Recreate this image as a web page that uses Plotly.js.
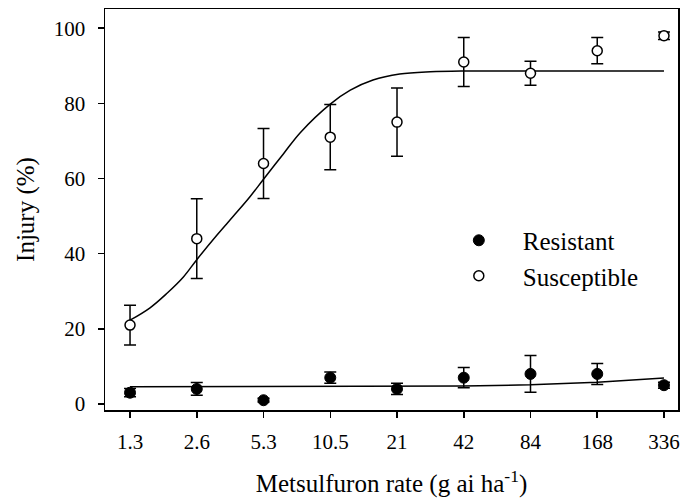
<!DOCTYPE html>
<html>
<head>
<meta charset="utf-8">
<script src="https://cdn.plot.ly/plotly-3.0.1.min.js"></script>
<style>html,body{margin:0;padding:0;background:#fff;}#chart{width:683px;height:503px;}</style>
</head>
<body>
<div id="chart"></div>
<script>
// Tick labels (metsulfuron rate, g ai/ha) at evenly spaced positions
var rateLabels = ["1.3", "2.6", "5.3", "10.5", "21", "42", "84", "168", "336"];
var ratePos = [0, 1, 2, 3, 4, 5, 6, 7, 8];

// Observed means and errors
var resistantMean = [3, 4, 1, 7, 4, 7, 8, 8, 5];
var resistantErr  = [1.1, 1.7, 0.5, 1.5, 1.5, 2.7, 4.9, 2.8, 0.8];
var susceptibleMean = [21, 44, 64, 71, 75, 91, 88, 94, 98];
var susceptibleErr  = [5.3, 10.6, 9.3, 8.7, 9.1, 6.5, 3.2, 3.5, 1.0];

// Fitted curves
var suscCurveX = [0, 0.3, 0.55, 0.8, 1.0, 1.3, 1.55, 1.8, 2.0, 2.3, 2.55, 3.0, 3.3, 3.64, 4.04, 4.5, 5, 6, 7, 8];
var suscCurveY = [22.3, 25.6, 29.4, 33.8, 38.4, 44.9, 50.0, 55.2, 59.8, 66.6, 72.2, 79.8, 83.5, 86.2, 87.8, 88.4, 88.6, 88.6, 88.6, 88.6];
var resCurveX = [0, 1, 2, 3, 4, 5, 6, 7, 8];
var resCurveY = [4.6, 4.6, 4.6, 4.7, 4.7, 4.8, 5.1, 5.8, 6.9];

var font = "Liberation Serif";

var traces = [
  {x: suscCurveX, y: suscCurveY, mode: "lines", line: {color: "#000", width: 1.5, shape: "spline", smoothing: 1}, showlegend: false, hoverinfo: "skip"},
  {x: resCurveX, y: resCurveY, mode: "lines", line: {color: "#000", width: 1.5}, showlegend: false, hoverinfo: "skip"},
  {x: ratePos, y: resistantMean, name: "Resistant", mode: "markers",
   marker: {symbol: "circle", size: 11, color: "#000", line: {color: "#000", width: 1}},
   error_y: {type: "data", array: resistantErr, visible: true, color: "#000", thickness: 1.5, width: 6}},
  {x: ratePos, y: susceptibleMean, name: "Susceptible", mode: "markers",
   marker: {symbol: "circle", size: 10, color: "#fff", line: {color: "#000", width: 1.5}},
   error_y: {type: "data", array: susceptibleErr, visible: true, color: "#000", thickness: 1.5, width: 6}}
];

var layout = {
  width: 683, height: 503,
  margin: {l: 105, r: 5, t: 9, b: 93},
  paper_bgcolor: "#fff", plot_bgcolor: "#fff",
  font: {family: font, color: "#000", size: 21},
  showlegend: true,
  legend: {x: 0.5756, y: 0.48, xanchor: "left", yanchor: "top", font: {family: font, size: 25, color: "#000"},
           bgcolor: "rgba(0,0,0,0)", itemwidth: 78, tracegroupgap: 0},
  xaxis: {
    range: [-0.375, 8.21], tickmode: "array", tickvals: ratePos, ticktext: rateLabels,
    showline: true, linecolor: "#000", linewidth: 1.5, mirror: true,
    ticks: "outside", ticklen: 6, tickwidth: 1.5, tickcolor: "#000",
    showgrid: false, zeroline: false, ticklabelstandoff: 6,
    tickfont: {family: font, size: 21, color: "#000"},
    title: {text: "Metsulfuron rate (g ai ha<sup>-1</sup>)", font: {family: font, size: 25, color: "#000"}, standoff: 22}
  },
  yaxis: {
    range: [-1.6, 105.1], tickvals: [0, 20, 40, 60, 80, 100],
    showline: true, linecolor: "#000", linewidth: 1.5, mirror: true,
    ticks: "outside", ticklen: 6, tickwidth: 1.5, tickcolor: "#000",
    showgrid: false, zeroline: false, ticklabelstandoff: 8,
    tickfont: {family: font, size: 21, color: "#000"},
    title: {text: "Injury (%)", font: {family: font, size: 25, color: "#000"}, standoff: 12}
  }
};

Plotly.newPlot("chart", traces, layout, {displayModeBar: false, staticPlot: true});
</script>
</body>
</html>
